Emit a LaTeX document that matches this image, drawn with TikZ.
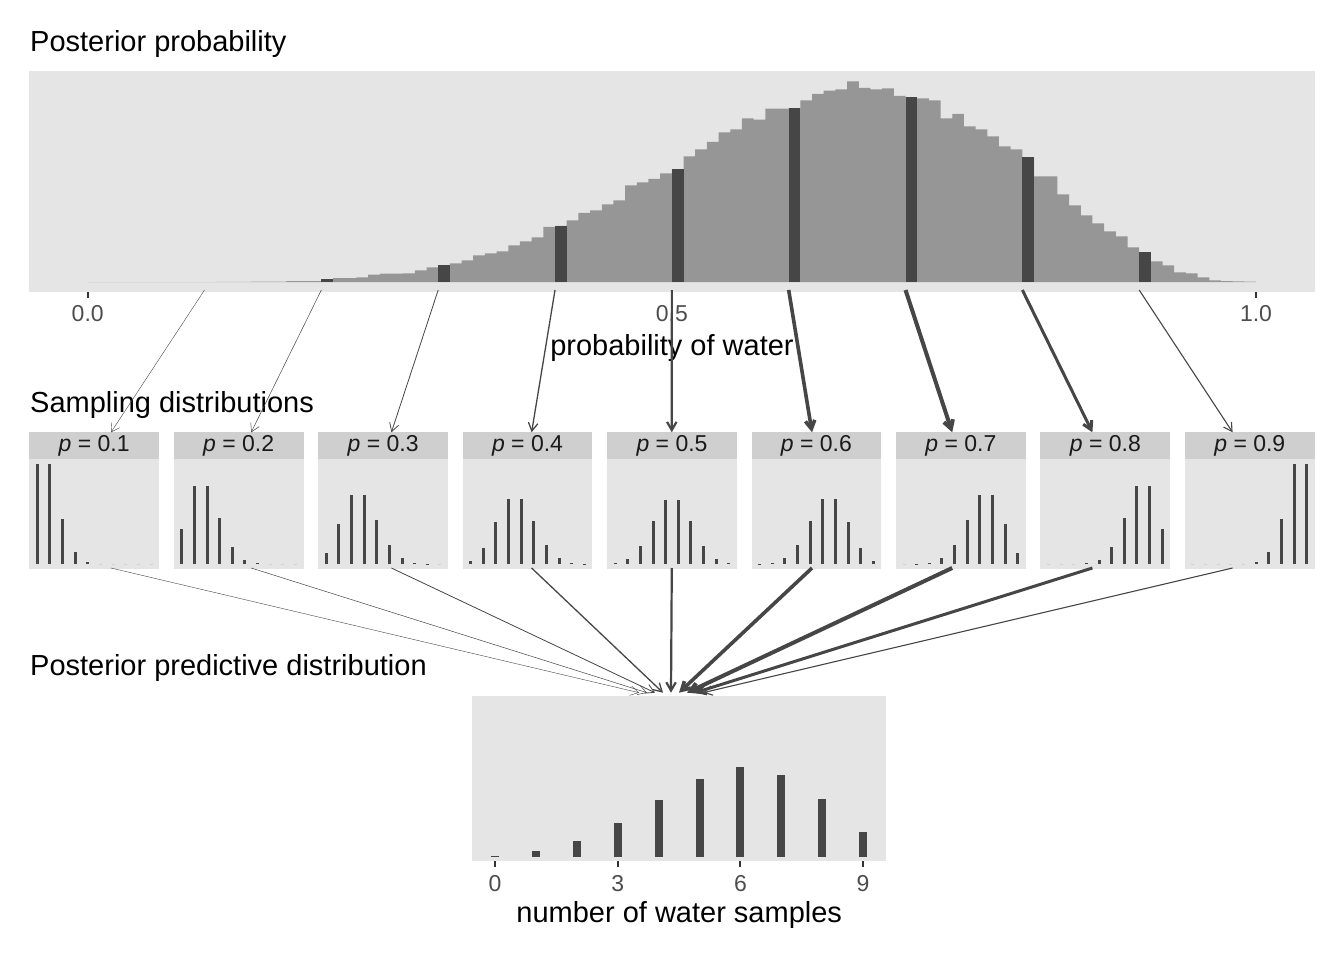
\documentclass[tikz,border=0pt]{standalone}
\usepackage{fontspec}
\setmainfont{Liberation Sans}
\usetikzlibrary{arrows.meta}
\definecolor{panelgray}{RGB}{229,229,229}
\definecolor{stripgray}{RGB}{207,207,207}
\definecolor{histgray}{RGB}{150,150,150}
\definecolor{bargray}{RGB}{70,70,70}
\definecolor{tickgray}{RGB}{51,51,51}
\definecolor{labelgray}{RGB}{77,77,77}
\definecolor{stripink}{RGB}{26,26,26}
\tikzset{
  panel/.style={fill=panelgray},
  strip/.style={fill=stripgray},
  bar/.style={fill=bargray},
  hist/.style={fill=histgray},
  tickmark/.style={draw=tickgray, line width=2pt},
  big-text/.style={font=\fontsize{29}{34}\selectfont, inner sep=0pt},
  title/.style={big-text, anchor=base west},
  axis-title/.style={big-text, anchor=base},
  tick-label/.style={font=\fontsize{23}{28}\selectfont, text=labelgray, inner sep=0pt, anchor=base},
  strip-label/.style={font=\fontsize{23}{28}\selectfont, text=stripink, inner sep=0pt, anchor=base},
  weight/.style={draw=bargray, line width=#1, -{Straight Barb[angle=60:9.5pt]}}
}
% posterior sample counts, 100 bins of width 0.01 (px)
\newcommand{\postbins}{0,0,0,0,0,0,0,0,0,0,
  0,0.2,0.2,0.2,0.5,0.5,0.5,0.8,0.8,0.8,
  3,4,4,4.7,7.3,8.3,8.3,8.7,11.7,14.7,
  16.7,18.7,21.7,26.7,28.7,30.7,36.7,40.7,44.7,55,
  56,61.7,69,71.7,77.7,81.7,96.7,99.7,103,108.7,
  112.7,125.7,132.7,140,149.7,152.7,163.7,162.3,173.3,173.3,
  173.7,181.7,188,191.3,192.7,200.7,194,192.7,193.7,186,
  184.7,183.7,181.7,163.7,168,155.7,152.7,145.7,135.7,132.7,
  124.7,105.7,105.7,87.7,76.7,66.7,58.7,50.7,45.7,34.7,
  29.7,20.7,16.7,9.7,8.7,4.7,1.7,1,0.7,0.3}

\begin{document}
\begin{tikzpicture}[x=1pt, y=-1pt]
  \useasboundingbox (0,0) rectangle (1344,960);
  \fill[white] (0,0) rectangle (1344,960);
  % Posterior probability
  \node[title] (title-post) at (30,51.7) {Posterior probability};
  \fill[panel] (29.3,71) rectangle (1314.7,292);
  \fill[hist] (87.7,282) \foreach \h [count=\i from 0] in \postbins {
      -- ({87.7+11.683*\i},{282-\h}) -- ({87.7+11.683*(\i+1)},{282-\h})
    } -- (1256,282) -- cycle;
  \foreach \i/\h in {2/3,3/16.7,4/56,5/112.7,6/173.7,7/184.7,8/124.7,9/29.7}
    \fill[bar] ({87.7+116.83*\i},282) rectangle ++(11.683,-\h);
  \foreach \v/\t [count=\n] in {0/0.0,0.5/0.5,1/1.0} {
    \draw[tickmark] ({87.7+1168.3*\v},292) -- ++(0,6);
    \node[tick-label] (xtick-\n) at ({87.7+1168.3*\v},321.7) {\t};
  }
  \node[axis-title] (xlab-post) at (672,355) {probability of water};
  % Sampling distributions
  \node[title] (title-samp) at (30,412.3) {Sampling distributions};
  \foreach \i in {1,...,9} {
    \pgfmathsetmacro{\pl}{29.3+144.45*(\i-1)}
    \pgfmathsetmacro{\pw}{\i/10}
    \fill[panel] (\pl,458.7) rectangle ++(129.8,110);
    \fill[strip] (\pl,432.3) rectangle ++(129.8,26.4);
    \node[strip-label] (strip-\i) at ({\pl+64.9},451.7) {\textit{p} = 0.\i};
    \foreach \w/\nk in {0/1,1/9,2/36,3/84,4/126,5/126,6/84,7/36,8/9,9/1} {
      \pgfmathsetmacro{\h}{\nk*\pw^\w*(1-\pw)^(9-\w)*257.5}
      \fill[bar] ({\pl+6.5+12.64*\w},563.7) rectangle ++(3,-\h);
    }
  }
  % Posterior predictive distribution
  \node[title] (title-pred) at (30,675) {Posterior predictive distribution};
  \fill[panel] (472.3,695.7) rectangle (886,861);
  \foreach \h [count=\w from 0] in {1,5.7,15.7,33.7,56.7,77.7,89.7,81.7,57.7,24.7}
    \fill[bar] ({491+40.9*\w},856.7) rectangle ++(8,-\h);
  \foreach \w in {0,3,6,9} {
    \draw[tickmark] ({495+40.9*\w},861) -- ++(0,6);
    \node[tick-label] (ntick-\w) at ({495+40.9*\w},891) {\w};
  }
  \node[axis-title] (xlab-pred) at (679.2,922) {number of water samples};
  % weighted arrows
  \foreach \i/\lw in {1/0.4pt,2/0.5pt,3/0.8pt,4/1.3pt,5/2.2pt,6/3.6pt,7/4pt,8/3pt,9/1.1pt} {
    \coordinate (post-\i) at ({87.7+116.83*\i},290);
    \coordinate (samp-in-\i) at ({111+140.2*(\i-1)},432.3);
    \coordinate (samp-out-\i) at ({111+140.2*(\i-1)},568);
    \coordinate (pred-\i) at ({671+8*(\i-5)},692.7);
    \draw[weight=\lw] (post-\i) -- (samp-in-\i);
    \draw[weight=\lw] (samp-out-\i) -- (pred-\i);
  }
\end{tikzpicture}
\end{document}
